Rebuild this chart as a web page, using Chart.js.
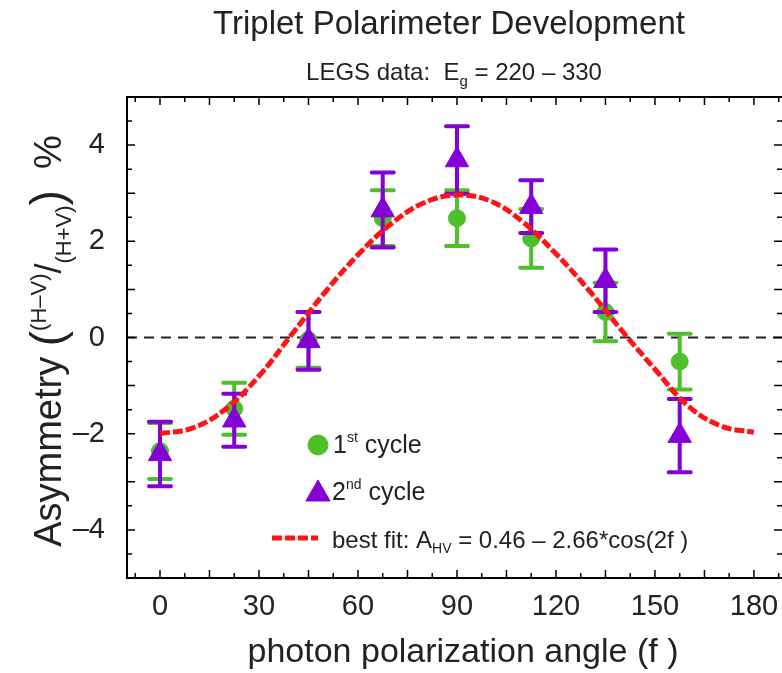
<!DOCTYPE html>
<html>
<head>
<meta charset="utf-8">
<script src="https://cdn.jsdelivr.net/npm/chart.js@4.4.0/dist/chart.umd.min.js"></script>
<style>
  html, body { margin: 0; padding: 0; background: #fff; overflow: hidden; }
</style>
</head>
<body>
<canvas id="chart" width="782" height="673"></canvas>
<script>
// values
const angles = [0, 22.5, 45, 67.5, 90, 112.5, 135, 157.5];
const cycle1 = [-2.36, -1.48, -0.05, 2.48, 2.48, 2.06, 0.53, -0.50];
const cycle1Err = [0.58, 0.54, 0.58, 0.58, 0.58, 0.61, 0.61, 0.58];
const cycle2 = [-2.42, -1.72, -0.07, 2.65, 3.69, 2.72, 1.18, -2.04];
const cycle2Err = [0.67, 0.55, 0.60, 0.78, 0.70, 0.55, 0.65, 0.76];

const fitAngles = [0, 10, 20, 30, 40, 50, 60, 70, 80, 90, 100, 110, 120, 130, 140, 150, 160, 170, 180];
const fitValues = [-2.00, -1.88, -1.48, -0.80, 0.07, 0.94, 1.72, 2.36, 2.80, 2.96, 2.84, 2.40, 1.74, 0.98, 0.14, -0.66, -1.42, -1.84, -1.97];

const xTicks = [0, 30, 60, 90, 120, 150, 180];
const yTicks = [-4, -2, 0, 2, 4];

const FONT = "'Liberation Sans', Arial, sans-serif";
const GREEN = '#4fbf2c';
const PURPLE = '#8500d6';
const RED = '#ff1414';
const INK = '#222';

const toPoints = (xs, ys) => xs.map((v, i) => ({ x: v, y: ys[i] }));

// error bars, drawn just under each dataset's own markers
const errorBars = {
    id: 'errorBars',
    beforeDatasetDraw(chart, args) {
        const ds = chart.data.datasets[args.index];
        if (!ds.err) return;
        const { x, y } = chart.scales;
        const ctx = chart.ctx;
        ctx.save();
        ctx.strokeStyle = ds.borderColor;
        ctx.lineWidth = 4;
        ctx.lineCap = 'round';
        ds.data.forEach((p, i) => {
            const px = x.getPixelForValue(p.x);
            const hi = y.getPixelForValue(p.y + ds.err[i]);
            const lo = y.getPixelForValue(p.y - ds.err[i]);
            ctx.beginPath();
            ctx.moveTo(px, hi); ctx.lineTo(px, lo);
            ctx.moveTo(px - 11, hi); ctx.lineTo(px + 11, hi);
            ctx.moveTo(px - 11, lo); ctx.lineTo(px + 11, lo);
            ctx.stroke();
        });
        ctx.restore();
    }
};

// top frame line and the inward tick marks on all four sides
// (the right frame line sits just past the picture's edge)
const frame = {
    id: 'frame',
    afterDatasetsDraw(chart) {
        const { ctx, chartArea: a, scales: { x, y } } = chart;
        ctx.save();
        ctx.strokeStyle = '#000';
        ctx.lineWidth = 2;
        ctx.beginPath();
        ctx.moveTo(a.left, a.top); ctx.lineTo(a.right, a.top);
        ctx.stroke();
        ctx.lineWidth = 1.5;
        ctx.beginPath();
        for (let v = -7.5; v <= 187.5; v += 7.5) {
            const px = x.getPixelForValue(v);
            const len = v % 15 === 0 ? 8 : 5;
            ctx.moveTo(px, a.bottom); ctx.lineTo(px, a.bottom - len);
            ctx.moveTo(px, a.top); ctx.lineTo(px, a.top + len);
        }
        for (let v = -4.5; v <= 4.5; v += 0.5) {
            const py = y.getPixelForValue(v);
            const len = v % 1 === 0 ? 8 : 5;
            ctx.moveTo(a.left, py); ctx.lineTo(a.left + len, py);
            ctx.moveTo(a.right, py); ctx.lineTo(a.right - len, py);
        }
        ctx.stroke();
        ctx.restore();
    }
};

// draws a run of [text, size, shift] pieces
function drawRun(ctx, pieces, x, y) {
    let cx = x;
    pieces.forEach(([t, size, shift]) => {
        ctx.font = size + 'px ' + FONT;
        ctx.fillText(t, cx, y + (shift || 0));
        cx += ctx.measureText(t).width;
    });
}
function runWidth(ctx, pieces) {
    let w = 0;
    pieces.forEach(([t, size]) => {
        ctx.font = size + 'px ' + FONT;
        w += ctx.measureText(t).width;
    });
    return w;
}

const labels = {
    id: 'labels',
    afterDraw(chart) {
        const ctx = chart.ctx;
        ctx.save();
        ctx.fillStyle = INK;
        ctx.textBaseline = 'alphabetic';
        ctx.textAlign = 'left';

        // titles
        const title = [['Triplet Polarimeter Development', 33]];
        drawRun(ctx, title, 449 - runWidth(ctx, title) / 2, 34);
        const sub = [['LEGS data:  E', 24], ['g', 15, 6], [' = 220 \u2013 330', 24]];
        drawRun(ctx, sub, 454 - runWidth(ctx, sub) / 2, 80);

        // x axis title
        const xt = [['photon polarization angle (f )', 34]];
        drawRun(ctx, xt, 463 - runWidth(ctx, xt) / 2, 662);

        // y axis title, rotated
        const yt = [['Asymmetry ', 38], ['(', 46, 2], ['(H\u2013V)', 22, -15], ['/', 36], ['(H+V)', 22, 10], [')', 46, 2], ['  %', 38]];
        ctx.save();
        ctx.translate(61, 341);
        ctx.rotate(-Math.PI / 2);
        drawRun(ctx, yt, -runWidth(ctx, yt) / 2, 0);
        ctx.restore();

        // legend
        const helpers = Chart.helpers;
        ctx.fillStyle = GREEN; ctx.strokeStyle = GREEN; ctx.lineWidth = 1;
        helpers.drawPoint(ctx, { pointStyle: 'circle', radius: 10, borderWidth: 1 }, 318, 445);
        ctx.fillStyle = PURPLE; ctx.strokeStyle = PURPLE;
        helpers.drawPoint(ctx, { pointStyle: 'triangle', radius: 14, borderWidth: 1 }, 318, 494);
        ctx.strokeStyle = RED; ctx.lineWidth = 5; ctx.setLineDash([10, 3]);
        ctx.beginPath(); ctx.moveTo(272, 538); ctx.lineTo(318, 538); ctx.stroke();
        ctx.setLineDash([]);

        ctx.fillStyle = INK;
        drawRun(ctx, [['1', 25], ['st', 14, -11], [' cycle', 25]], 333, 453);
        drawRun(ctx, [['2', 25], ['nd', 14, -11], [' cycle', 25]], 332, 500);
        drawRun(ctx, [['best fit: A', 24], ['HV', 14, 5], [' = 0.46 \u2013 2.66*cos(2f )', 24]], 332, 548);
        ctx.restore();
    }
};

new Chart(document.getElementById('chart'), {
    type: 'scatter',
    data: {
        datasets: [
            {
                label: 'best fit',
                type: 'line',
                data: toPoints(fitAngles, fitValues),
                borderColor: RED,
                borderWidth: 5,
                borderDash: [10, 3],
                pointRadius: 0,
                tension: 0.4,
                fill: false,
                order: 0
            },
            {
                label: '2nd cycle',
                data: toPoints(angles, cycle2),
                err: cycle2Err,
                pointStyle: 'triangle',
                pointRadius: 13.5,
                backgroundColor: PURPLE,
                borderColor: PURPLE,
                borderWidth: 1,
                order: 1
            },
            {
                label: '1st cycle',
                data: toPoints(angles, cycle1),
                err: cycle1Err,
                pointStyle: 'circle',
                pointRadius: 8.5,
                backgroundColor: GREEN,
                borderColor: GREEN,
                borderWidth: 1,
                order: 2
            },
            {
                label: 'zero',
                type: 'line',
                data: [{ x: -10, y: 0 }, { x: 190, y: 0 }],
                borderColor: INK,
                borderWidth: 2,
                borderDash: [10, 7],
                pointRadius: 0,
                order: 3
            }
        ]
    },
    options: {
        responsive: false,
        animation: false,
        layout: { autoPadding: false, padding: { top: 97, right: 0, left: 0, bottom: 0 } },
        plugins: {
            legend: { display: false },
            tooltip: { enabled: false }
        },
        scales: {
            x: {
                type: 'linear',
                min: -10,
                max: 188.5,
                grid: { display: false, drawTicks: false },
                border: { display: true, color: '#000', width: 2 },
                afterBuildTicks: s => { s.ticks = xTicks.map(v => ({ value: v })); },
                afterFit: s => { s.height = 95; s.paddingLeft = 0; s.paddingRight = 0; },
                ticks: {
                    padding: 12,
                    color: INK,
                    font: { family: FONT, size: 29 },
                    maxRotation: 0,
                    autoSkip: false
                }
            },
            y: {
                type: 'linear',
                min: -5,
                max: 5,
                grid: { display: false, drawTicks: false },
                border: { display: true, color: '#000', width: 2 },
                afterBuildTicks: s => { s.ticks = yTicks.map(v => ({ value: v })); },
                afterFit: s => { s.width = 127; s.paddingTop = 0; s.paddingBottom = 0; },
                ticks: {
                    padding: 22,
                    color: INK,
                    font: { family: FONT, size: 29 },
                    callback: v => (v < 0 ? '\u2013' + Math.abs(v) : String(v))
                }
            }
        }
    },
    plugins: [errorBars, frame, labels]
});
</script>
</body>
</html>
